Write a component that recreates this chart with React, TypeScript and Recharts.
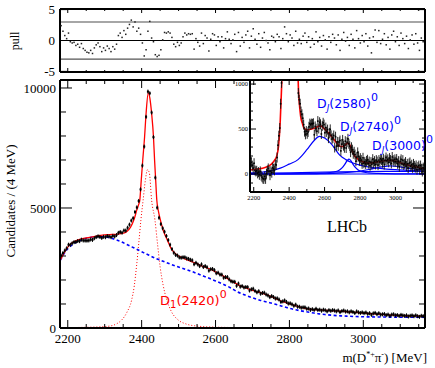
import React from 'react'
import { ComposedChart, Line, Scatter, XAxis, YAxis, ReferenceLine } from 'recharts'

const SERIF = 'Liberation Serif'
const SANS = 'DejaVu Sans'
const RED = '#ff0000'
const BLUE = '#0000ff'

// data binned in 5 MeV, bin centres from 2182 MeV
const BIN_START = 2182
const BIN_WIDTH = 5

const candidates = [
  3020, 3123, 3225, 3317, 3470, 3468, 3526, 3577, 3582, 3624,
  3618, 3680, 3646, 3642, 3639, 3647, 3687, 3671, 3741, 3787,
  3820, 3793, 3753, 3800, 3782, 3831, 3811, 3785, 3839, 3816,
  3871, 3965, 4000, 3971, 4061, 4058, 4177, 4307, 4475, 4576,
  4834, 5025, 5294, 5775, 6767, 7560, 8798, 9850, 9780, 8978,
  7952, 6265, 5013, 4594, 4330, 4156, 4011, 3834, 3664, 3470,
  3289, 3136, 3044, 3018, 2941, 2928, 2947, 2944, 2898, 2878,
  2843, 2818, 2657, 2716, 2650, 2579, 2651, 2540, 2580, 2530,
  2390, 2450, 2459, 2409, 2281, 2304, 2226, 2223, 2094, 2119,
  2124, 2024, 1948, 1929, 1923, 1758, 1850, 1722, 1746, 1688,
  1707, 1701, 1562, 1613, 1635, 1543, 1487, 1532, 1428, 1460,
  1469, 1395, 1355, 1285, 1330, 1288, 1228, 1235, 1185, 1086,
  1110, 1147, 1086, 1019, 1028, 987, 925, 971, 888, 886,
  845, 860, 859, 801, 813, 755, 785, 753, 801, 751,
  764, 720, 762, 739, 693, 743, 715, 746, 726, 692,
  731, 661, 704, 727, 684, 694, 653, 694, 666, 624,
  690, 651, 627, 651, 619, 645, 590, 616, 550, 609,
  629, 575, 614, 558, 569, 584, 536, 559, 509, 558,
  569, 526, 541, 506, 547, 524, 503, 528, 480, 509,
  525, 491, 527, 492, 464, 508, 494,
]

const pulls = [
  2.4, 1.5, 0.8, 0.3, 1.2, -0.2, -0.4, -0.3, -0.8, -0.6,
  -1.1, -0.5, -1.3, -1.6, -1.9, -2.0, -1.6, -2.1, -1.2, -0.7,
  -0.4, -1.0, -1.8, -1.2, -1.6, -0.9, -1.3, -1.8, -1.0, -1.4,
  -0.6, 0.8, 1.2, 0.5, 1.6, 1.0, 2.0, 2.6, 3.3, 2.2,
  3.0, 1.5, 2.0, 1.0, -0.4, -2.5, -1.5, 1.5, 3.1, 0.4,
  -0.2, -2.3, -2.6, -2.4, -1.5, 0.1, 1.3, 1.2, 1.4, 1.2,
  0.5, -0.6, -1.0, -0.3, -0.8, -0.4, 0.6, 1.2, 0.9, 1.1,
  1.0, 1.1, -1.4, 0.3, -0.3, -0.9, 1.2, -0.5, 0.8, 0.4,
  -1.7, 0.2, 1.1, 0.9, -0.8, 0.6, -0.2, 0.6, -1.2, 0.3,
  1.4, 0.2, -0.5, 0.1, 1.0, -1.8, 1.3, -0.9, 0.5, -0.3,
  0.9, 1.5, -1.2, 0.7, 1.9, 0.2, -0.6, 1.1, -1.1, 0.4,
  1.3, 0.0, -0.4, -1.5, 0.7, 0.5, -0.2, 1.0, 0.6, -1.3,
  0.3, 2.2, 1.1, -0.2, 0.9, 0.4, -0.8, 1.5, -0.4, 0.2,
  -0.5, 0.7, 1.2, -0.3, 0.6, -1.1, 0.3, -0.6, 1.4, -0.2,
  0.5, -0.9, 0.8, 0.1, -1.4, 0.6, -0.3, 1.0, 0.4, -0.7,
  0.9, -1.6, 0.2, 1.3, -0.1, 0.5, -0.8, 1.0, 0.2, -1.2,
  1.6, 0.3, -0.4, 0.8, -0.2, 1.1, -0.9, 0.4, -2.0, 0.6,
  1.7, -0.3, 1.6, -0.5, 0.2, 1.1, -0.7, 0.5, -1.4, 0.9,
  1.5, -0.2, 0.6, -0.8, 1.2, 0.3, -0.5, 0.7, -1.3, 0.1,
  0.9, -0.6, 1.1, -0.4, -1.6, 0.4, -0.2,
]

// background-subtracted candidates shown in the inset
const insetCandidates = [
  176, 130, 93, 66, 120, 40, 29, 36, 7, 21,
  -9, 29, -18, -35, -51, -55, -27, -54, 4, 39,
  62, 31, -13, 31, 14, 69, 57, 40, 106, 101,
  183, 320, 425, 511, 781, 1013, 1327, 1600, 2000, 2500,
  3000, 3600, 4300, 5000, 5800, 6300, 6600, 6500, 6000, 5000,
  3800, 2600, 1700, 1300, 900, 826, 781, 694, 664, 620,
  549, 471, 441, 477, 447, 468, 525, 560, 547, 560,
  557, 564, 436, 529, 503, 476, 588, 506, 575, 553,
  445, 535, 569, 549, 458, 516, 468, 494, 399, 457,
  496, 430, 388, 401, 428, 295, 415, 310, 357, 313,
  355, 372, 257, 332, 379, 315, 292, 365, 289, 354,
  391, 336, 310, 243, 297, 270, 225, 247, 216, 142,
  187, 240, 196, 148, 176, 155, 113, 180, 119, 135,
  112, 145, 158, 114, 139, 92, 132, 108, 165, 122,
  143, 106, 155, 138, 99, 155, 133, 169, 155, 126,
  170, 105, 153, 183, 147, 163, 130, 177, 155, 118,
  189, 154, 135, 163, 136, 166, 114, 143, 80, 141,
  163, 112, 154, 101, 115, 133, 88, 113, 66, 117,
  129, 86, 103, 69, 112, 90, 70, 95, 48, 77,
  93, 58, 94, 58, 28, 71, 56,
]

// total fit
const fitMass = [
  2180, 2190, 2200, 2210, 2220, 2230, 2240, 2250, 2260, 2270, 2280, 2290, 2300, 2310, 2320, 2330, 2340, 2350, 2360, 2370, 2380,
  2387, 2392, 2395, 2399, 2403, 2408, 2412, 2418, 2422, 2427, 2432, 2435, 2438, 2441, 2445, 2450, 2455,
  2460, 2470, 2480, 2490, 2500, 2510, 2520, 2530, 2540, 2550, 2560, 2570, 2580, 2590, 2600, 2610, 2620, 2630, 2640, 2650,
  2660, 2670, 2680, 2690, 2700, 2710, 2720, 2730, 2740, 2750, 2760, 2770, 2780, 2790, 2800, 2810, 2820, 2830, 2840, 2850,
  2860, 2870, 2880, 2890, 2900, 2920, 2940, 2960, 2980, 3000, 3020, 3040, 3060, 3080, 3100, 3120, 3140, 3167,
]
const fitTotal = [
  2830, 3130, 3370, 3530, 3620, 3680, 3720, 3750, 3780, 3810, 3840, 3860, 3880, 3890, 3900, 3905, 3920, 3950, 4020, 4200, 4550,
  4920, 5150, 5330, 6170, 7000, 7970, 8940, 9800, 9600, 8940, 7970, 7000, 6170, 5330, 4900, 4550, 4250,
  4000, 3650, 3300, 3120, 3000, 2930, 2860, 2800, 2740, 2680, 2600, 2550, 2490, 2420, 2340, 2250, 2170, 2080, 1990, 1900,
  1810, 1740, 1680, 1620, 1570, 1520, 1480, 1430, 1380, 1320, 1250, 1180, 1110, 1060, 1010, 960, 910, 870, 830, 800,
  780, 765, 752, 742, 733, 716, 700, 675, 650, 625, 600, 578, 554, 535, 521, 510, 503, 496,
]

// combinatorial background
const bkgMass = [
  2180, 2190, 2200, 2210, 2220, 2240, 2260, 2280, 2300, 2320, 2340, 2360, 2380, 2400, 2420, 2440, 2460, 2480, 2500, 2520,
  2540, 2560, 2580, 2600, 2620, 2640, 2660, 2680, 2700, 2720, 2740, 2760, 2780, 2800, 2820, 2840, 2860, 2880, 2900, 2920,
  2940, 2960, 2980, 3000, 3050, 3100, 3167,
]
const bkgValues = [
  2833, 3100, 3300, 3440, 3550, 3690, 3770, 3805, 3800, 3730, 3620, 3480, 3330, 3180, 3030, 2890, 2770, 2650, 2540, 2440,
  2330, 2210, 2090, 1960, 1830, 1680, 1500, 1370, 1260, 1160, 1080, 1000, 910, 820, 750, 690, 640, 590, 555, 525,
  505, 490, 478, 468, 458, 450, 446,
]

// D1(2420)0 component
const d1Mass = [
  2180, 2250, 2300, 2320, 2335, 2346, 2360, 2373, 2380, 2386, 2392, 2398, 2404, 2410, 2416, 2421,
  2427, 2436, 2443, 2450, 2458, 2468, 2480, 2499, 2520, 2550, 2600, 2700, 2850, 3000, 3167,
]
const d1Values = [
  15, 30, 60, 100, 200, 333, 650, 1170, 1750, 2550, 3500, 4500, 5330, 6150, 6600, 6450,
  5330, 4500, 3500, 2550, 1800, 1170, 700, 333, 170, 80, 35, 12, 5, 2, 1,
]

// inset: fit and components
const insetFitMass = [
  2180, 2200, 2220, 2240, 2260, 2280, 2300, 2320, 2330, 2340, 2350, 2358, 2370, 2385, 2400, 2418, 2435, 2445, 2451, 2458,
  2465, 2475, 2484, 2495, 2505, 2520, 2542, 2560, 2572, 2585, 2600, 2620, 2640, 2660, 2677, 2692, 2706, 2718, 2730, 2740,
  2755, 2770, 2793, 2820, 2851, 2880, 2909, 2940, 2967, 3006, 3035, 3064, 3094, 3122, 3150, 3167,
]
const insetFitTotal = [
  45, 50, 55, 60, 70, 85, 110, 160, 200, 310, 600, 1000, 1700, 3000, 5000, 6700, 4000, 1800, 1040, 780,
  640, 560, 509, 495, 490, 498, 509, 525, 535, 528, 500, 460, 415, 365, 325, 305, 306, 325, 343, 330,
  260, 200, 159, 132, 122, 128, 140, 148, 151, 140, 120, 103, 88, 77, 65, 58,
]
const d2580Mass = [2180, 2250, 2300, 2350, 2400, 2450, 2475, 2500, 2540, 2571, 2600, 2640, 2687, 2720, 2760, 2800, 2850, 2900, 2950, 3000, 3100, 3167]
const d2580Values = [10, 22, 38, 65, 110, 160, 210, 270, 370, 418, 400, 330, 207, 160, 122, 98, 78, 65, 55, 48, 38, 32]
const d2740Mass = [2180, 2500, 2600, 2650, 2680, 2700, 2715, 2728, 2738, 2748, 2760, 2775, 2790, 2810, 2850, 2900, 3000, 3167]
const d2740Values = [0, 3, 10, 22, 40, 70, 110, 150, 166, 150, 110, 70, 45, 25, 12, 6, 2, 1]
const d3000Mass = [2180, 2600, 2700, 2780, 2850, 2900, 2940, 2970, 3000, 3040, 3080, 3120, 3167]
const d3000Values = [0, 3, 12, 28, 50, 72, 85, 90, 86, 74, 62, 52, 44]
const otherMass = [2180, 2400, 2600, 2800, 2950, 3167]
const otherValues = [8, 14, 20, 27, 30, 28]

const massDomain = [2179, 3167]
const massTicks = [2200, 2250, 2300, 2350, 2400, 2450, 2500, 2550, 2600, 2650, 2700, 2750, 2800, 2850, 2900, 2950, 3000, 3050, 3100, 3150]
const countTicks = [0, 1000, 2000, 3000, 4000, 5000, 6000, 7000, 8000, 9000, 10000]
const pullTicks = [-5, 0, 5]
const insetMassTicks = [2200, 2300, 2400, 2500, 2600, 2700, 2800, 2900, 3000, 3100]
const insetCountTicks = [-100, 0, 100, 200, 300, 400, 500, 600, 700, 800, 900, 1000]

const binned = (ys: number[]) => ys.map((y, i) => ({ x: BIN_START + BIN_WIDTH * i, y }))
const pairs = (xs: number[], ys: number[]) => xs.map((x, i) => ({ x, y: ys[i] }))

type Side = 'bottom' | 'top' | 'left' | 'right'

// ROOT style ticks: drawn inwards, long on the labelled ones
function frameTick(side: Side, majorStep: number, majorLen: number, minorLen: number, fontSize = 0, gap = 0) {
  return (props: any) => {
    const { x, y, payload } = props
    const v = payload.value as number
    const major = Math.abs(v / majorStep - Math.round(v / majorStep)) < 1e-6
    const len = major ? majorLen : minorLen
    const x2 = side === 'left' ? x + len : side === 'right' ? x - len : x
    const y2 = side === 'bottom' ? y - len : side === 'top' ? y + len : y
    const showLabel = fontSize > 0 && major
    return (
      <g>
        <line x1={x} y1={y} x2={x2} y2={y2} stroke="#000" strokeWidth={1} />
        {showLabel && side === 'bottom' && (
          <text x={x} y={y + gap} textAnchor="middle" fontSize={fontSize} fontFamily={SERIF} fill="#000">{v}</text>
        )}
        {showLabel && side === 'left' && (
          <text x={x - gap} y={y} dy="0.35em" textAnchor="end" fontSize={fontSize} fontFamily={SERIF} fill="#000">{v}</text>
        )}
      </g>
    )
  }
}

const frame = { stroke: '#000', strokeWidth: 2 }

const DataPoint = (p: any) => (
  <g>
    <line x1={p.cx} x2={p.cx} y1={p.cy - 2} y2={p.cy + 2} stroke="#000" strokeWidth={1} />
    <rect x={p.cx - 1} y={p.cy - 1} width={2} height={2} fill="#000" />
  </g>
)
const InsetPoint = (p: any) => (
  <g>
    <line x1={p.cx} x2={p.cx} y1={p.cy - 5} y2={p.cy + 5} stroke="#111" strokeWidth={0.9} />
    <rect x={p.cx - 0.8} y={p.cy - 0.8} width={1.6} height={1.6} fill="#000" />
  </g>
)
const PullPoint = (p: any) => <rect x={p.cx - 0.75} y={p.cy - 0.75} width={1.5} height={1.5} fill="#222" />

function MainPlot() {
  return (
    <ComposedChart width={435} height={368} margin={{ top: 0, right: 0, bottom: 0, left: 0 }}>
      <XAxis type="number" dataKey="x" domain={massDomain} allowDataOverflow ticks={massTicks} interval={0}
        height={40} tickSize={0} tickMargin={0} tickLine={false} axisLine={frame}
        tick={frameTick('bottom', 200, 8, 4, 13, 15)} />
      <XAxis xAxisId="top" orientation="top" type="number" dataKey="x" domain={massDomain} allowDataOverflow ticks={massTicks}
        interval={0} height={80} tickSize={0} tickMargin={0} tickLine={false} axisLine={frame}
        tick={frameTick('top', 200, 8, 4)} />
      <YAxis type="number" domain={[0, 10333]} allowDataOverflow ticks={countTicks} interval={0}
        width={60} tickSize={0} tickMargin={0} tickLine={false} axisLine={frame}
        tick={frameTick('left', 5000, 12, 6, 13, 4)} />
      <YAxis yAxisId="right" orientation="right" type="number" domain={[0, 10333]} allowDataOverflow ticks={countTicks}
        interval={0} width={10} tickSize={0} tickMargin={0} tickLine={false} axisLine={frame}
        tick={frameTick('right', 5000, 12, 6)} />
      <ReferenceLine y={0} stroke="#2020c0" strokeWidth={1.5} />
      <Scatter data={binned(candidates)} dataKey="y" shape={DataPoint} isAnimationActive={false} />
      <Line data={pairs(d1Mass, d1Values)} dataKey="y" type="monotone" stroke={RED} strokeWidth={1}
        strokeDasharray="1 2" dot={false} isAnimationActive={false} />
      <Line data={pairs(bkgMass, bkgValues)} dataKey="y" type="monotone" stroke={BLUE} strokeWidth={1.6}
        strokeDasharray="3 2.5" dot={false} isAnimationActive={false} />
      <Line data={pairs(fitMass, fitTotal)} dataKey="y" type="monotone" stroke={RED} strokeWidth={1.3}
        dot={false} isAnimationActive={false} />
    </ComposedChart>
  )
}

function InsetPlot() {
  return (
    <ComposedChart width={215} height={145} margin={{ top: 0, right: 0, bottom: 0, left: 0 }}>
      <XAxis type="number" dataKey="x" domain={massDomain} allowDataOverflow ticks={insetMassTicks} interval={0}
        height={23} tickSize={0} tickMargin={0} tickLine={false} axisLine={frame}
        tick={frameTick('bottom', 200, 5, 3, 6.5, 8)} />
      <XAxis xAxisId="top" orientation="top" type="number" dataKey="x" domain={massDomain} allowDataOverflow
        ticks={insetMassTicks} interval={0} height={10} tickSize={0} tickMargin={0} tickLine={false} axisLine={frame}
        tick={frameTick('top', 200, 5, 3)} />
      <YAxis type="number" domain={[-200, 1045]} allowDataOverflow ticks={insetCountTicks} interval={0}
        width={30} tickSize={0} tickMargin={0} tickLine={false} axisLine={frame}
        tick={frameTick('left', 500, 6, 3, 6.5, 2)} />
      <YAxis yAxisId="right" orientation="right" type="number" domain={[-200, 1045]} allowDataOverflow
        ticks={insetCountTicks} interval={0} width={10} tickSize={0} tickMargin={0} tickLine={false} axisLine={frame}
        tick={frameTick('right', 500, 6, 3)} />
      <Scatter data={binned(insetCandidates)} dataKey="y" shape={InsetPoint} isAnimationActive={false} />
      <ReferenceLine y={0} stroke={BLUE} strokeWidth={1.2} />
      <Line data={pairs(otherMass, otherValues)} dataKey="y" type="monotone" stroke={BLUE} strokeWidth={1.2}
        dot={false} isAnimationActive={false} />
      <Line data={pairs(d3000Mass, d3000Values)} dataKey="y" type="monotone" stroke={BLUE} strokeWidth={1.2}
        dot={false} isAnimationActive={false} />
      <Line data={pairs(d2740Mass, d2740Values)} dataKey="y" type="monotone" stroke={BLUE} strokeWidth={1.2}
        dot={false} isAnimationActive={false} />
      <Line data={pairs(d2580Mass, d2580Values)} dataKey="y" type="monotone" stroke={BLUE} strokeWidth={1.2}
        dot={false} isAnimationActive={false} />
      <Line data={pairs(insetFitMass, insetFitTotal)} dataKey="y" type="monotone" stroke={RED} strokeWidth={1.6}
        dot={false} isAnimationActive={false} />
    </ComposedChart>
  )
}

function PullPlot() {
  return (
    <ComposedChart width={435} height={80} margin={{ top: 0, right: 0, bottom: 0, left: 0 }}>
      <XAxis type="number" dataKey="x" domain={massDomain} allowDataOverflow ticks={massTicks} interval={0}
        height={8} tickSize={0} tickMargin={0} tickLine={false} axisLine={frame}
        tick={frameTick('bottom', 200, 4, 2)} />
      <XAxis xAxisId="top" orientation="top" type="number" dataKey="x" domain={massDomain} allowDataOverflow ticks={massTicks}
        interval={0} height={9} tickSize={0} tickMargin={0} tickLine={false} axisLine={frame}
        tick={frameTick('top', 200, 4, 2)} />
      <YAxis type="number" domain={[-5.1, 5.1]} allowDataOverflow ticks={pullTicks} interval={0}
        width={60} tickSize={0} tickMargin={0} tickLine={false} axisLine={frame}
        tick={frameTick('left', 5, 8, 8, 13, 5)} />
      <YAxis yAxisId="right" orientation="right" type="number" domain={[-5.1, 5.1]} allowDataOverflow ticks={pullTicks}
        interval={0} width={10} tickSize={0} tickMargin={0} tickLine={false} axisLine={frame}
        tick={frameTick('right', 5, 8, 8)} />
      <ReferenceLine y={3} stroke="#888" strokeWidth={1.5} />
      <ReferenceLine y={-3} stroke="#555" strokeWidth={1.2} />
      <ReferenceLine y={0} stroke="#000" strokeWidth={1.2} />
      <Scatter data={binned(pulls)} dataKey="y" shape={PullPoint} isAnimationActive={false} />
    </ComposedChart>
  )
}

function Labels() {
  return (
    <svg width={435} height={368} style={{ position: 'absolute', left: 0, top: 0, pointerEvents: 'none' }}>
      <text transform="translate(18.5,41) rotate(-90)" textAnchor="middle" fontFamily={SERIF} fontSize={12}>pull</text>
      <text transform="translate(14.5,201) rotate(-90)" textAnchor="middle" fontFamily={SERIF} fontSize={13}>
        Candidates / (4 MeV)
      </text>
      <text x={427} y={362} textAnchor="end" fontFamily={SERIF} fontSize={13}>
        m(D<tspan dy={-5} fontSize={8}>*+</tspan><tspan dy={5}>π</tspan><tspan dy={-5} fontSize={8}>-</tspan>
        <tspan dy={5}>) [MeV]</tspan>
      </text>
      <text x={347} y={232} textAnchor="middle" fontFamily={SERIF} fontSize={16}>LHCb</text>
      <text x={160} y={305} fill={RED} fontFamily={SANS} fontSize={13}>
        D<tspan dy={3} fontSize={10}>1</tspan><tspan dy={-3}>(2420)</tspan>
        <tspan dy={-7} fontSize={11}>0</tspan>
      </text>
      {[
        { x: 317, y: 108, t: '(2580)' },
        { x: 340, y: 131, t: '(2740)' },
        { x: 372, y: 150, t: '(3000)' },
      ].map((l) => (
        <text key={l.t} x={l.x} y={l.y} fill={BLUE} fontFamily={SANS} fontSize={12.5}>
          D<tspan dy={3} fontSize={9} fontStyle="italic">J</tspan><tspan dy={-3}>{l.t}</tspan>
          <tspan dy={-7} fontSize={11}>0</tspan>
        </text>
      ))}
    </svg>
  )
}

export default function App() {
  return (
    <div style={{ position: 'absolute', left: 0, top: 0, width: 435, height: 368, background: '#fff' }}>
      <div style={{ position: 'absolute', left: 0, top: 0 }}>
        <MainPlot />
      </div>
      <div style={{ position: 'absolute', left: 251, top: 81, width: 173, height: 110, background: '#fff' }} />
      <div style={{ position: 'absolute', left: 220, top: 70 }}>
        <InsetPlot />
      </div>
      <div style={{ position: 'absolute', left: 0, top: 0 }}>
        <PullPlot />
      </div>
      <Labels />
    </div>
  )
}
